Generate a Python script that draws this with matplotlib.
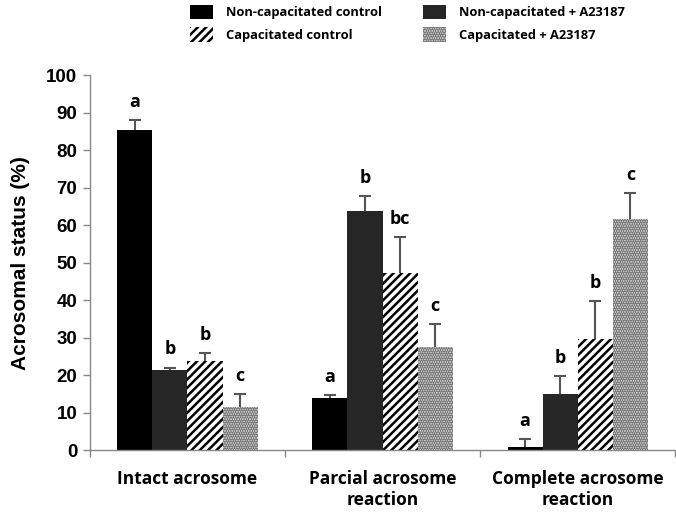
import numpy as np
import matplotlib
matplotlib.use("Agg")
import matplotlib.pyplot as plt
from matplotlib.patches import Patch

# data
categories = ['Intact acrosome', 'Parcial acrosome\nreaction', 'Complete acrosome\nreaction']
series = ['Non-capacitated control', 'Non-capacitated + A23187',
          'Capacitated control', 'Capacitated + A23187']
means = {
    'Non-capacitated control':  [85.3, 13.9, 0.8],
    'Non-capacitated + A23187': [21.3, 63.7, 15.0],
    'Capacitated control':      [23.7, 47.2, 29.6],
    'Capacitated + A23187':     [11.5, 27.5, 61.6],
}
errs = {
    'Non-capacitated control':  [2.7, 0.8, 2.1],
    'Non-capacitated + A23187': [0.7, 4.0, 4.7],
    'Capacitated control':      [2.2, 9.6, 10.1],
    'Capacitated + A23187':     [3.4, 6.1, 6.9],
}
letters = {
    'Non-capacitated control':  ['a', 'a', 'a'],
    'Non-capacitated + A23187': ['b', 'b', 'b'],
    'Capacitated control':      ['b', 'bc', 'b'],
    'Capacitated + A23187':     ['c', 'c', 'c'],
}

styles = {
    'Non-capacitated control':  dict(facecolor='black', hatch=None, edgecolor='black'),
    'Non-capacitated + A23187': dict(facecolor='#262626', hatch=None, edgecolor='#262626'),
    'Capacitated control':      dict(facecolor='white', hatch='////', edgecolor='black'),
    'Capacitated + A23187':     dict(facecolor='#d2d2d2', hatch='.......', edgecolor='#7a7a7a'),
}

plt.rcParams['hatch.linewidth'] = 1.8
fig = plt.figure(figsize=(6.76, 5.15), dpi=100)
ax = fig.add_axes([0.133, 0.126, 0.866, 0.728])

x = np.arange(len(categories)) + 0.5
w = 0.18
for i, s in enumerate(series):
    pos = x + (i - 1.5) * w
    st = styles[s]
    ax.bar(pos, means[s], w, facecolor=st['facecolor'], hatch=st['hatch'],
           edgecolor=st['edgecolor'], linewidth=0)
    eb = ax.errorbar(pos, means[s], yerr=[np.zeros(3), errs[s]], fmt='none',
                     ecolor='#555555', elinewidth=1.5, capsize=4, capthick=1.5)
    eb[1][0].set_visible(False)  # no cap at the bar top
    for p, m, e, lab in zip(pos, means[s], errs[s], letters[s]):
        ax.text(p, m + e + 2.5, lab, ha='center', va='bottom',
                fontsize=13, fontweight='bold', family='Open Sans')

ax.set_xlim(0, 3)
ax.set_ylim(0, 100)
ax.set_yticks(np.arange(0, 101, 10))
ax.tick_params(axis='y', direction='out', length=5, color='#888888', width=1, pad=4)
for t in ax.get_yticklabels():
    t.set_fontfamily('Liberation Sans')
    t.set_fontweight('bold')
    t.set_fontsize(13.5)

ax.set_xticks([0, 1, 2, 3])
ax.set_xticklabels([])
ax.tick_params(axis='x', which='major', direction='out', length=5, color='#888888', width=1)
ax.set_xticks(x, minor=True)
ax.set_xticklabels(categories, minor=True, fontsize=12.5, fontweight='bold',
                   family='Open Sans', linespacing=1.25)
ax.tick_params(axis='x', which='minor', length=0, pad=14)

for side in ['top', 'right']:
    ax.spines[side].set_visible(False)
for side in ['left', 'bottom']:
    ax.spines[side].set_color('#888888')
    ax.spines[side].set_linewidth(1)

ax.set_ylabel('Acrosomal status (%)', fontsize=15, fontweight='bold',
              family='Liberation Sans', labelpad=12)

handles = [Patch(facecolor=styles[s]['facecolor'], hatch=styles[s]['hatch'],
                 edgecolor=styles[s]['edgecolor'], linewidth=0, label=s) for s in series]
order = [0, 2, 1, 3]
fig.legend([handles[k] for k in order], [series[k] for k in order], ncol=2,
           loc='upper left', bbox_to_anchor=(0.267, 1.008), frameon=False,
           prop={'family': 'Open Sans', 'weight': 'bold', 'size': 9.3},
           handlelength=1.8, handleheight=1.35, handletextpad=1.0,
           columnspacing=3.2, labelspacing=0.6, borderaxespad=0.3)

fig.savefig('out.png', dpi=100)
